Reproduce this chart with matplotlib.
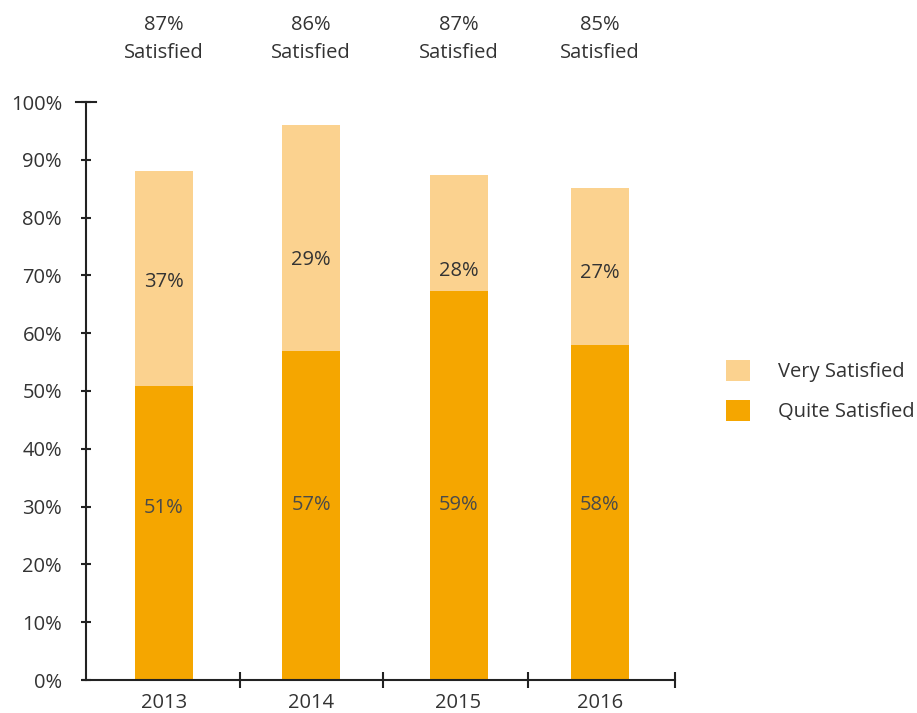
import matplotlib.pyplot as plt
import numpy as np

# data
years = ["2013", "2014", "2015", "2016"]
quite_height = [50.9, 56.9, 67.3, 58.0]      # drawn height of the dark segment
very_height = [37.2, 39.1, 20.1, 27.1]       # drawn height of the light segment
quite_labels = ["51%", "57%", "59%", "58%"]
very_labels = ["37%", "29%", "28%", "27%"]
total_labels = ["87%", "86%", "87%", "85%"]
quite_label_y = [29.8, 30.3, 30.3, 30.3]
very_label_y = [68.9, 72.7, 70.8, 70.4]

# layout (category slots are not quite even in the original)
bar_x = [0.53, 1.53, 2.53, 3.49]
sep_x = [1.046, 2.017, 3.0, 4.0]

DARK = "#F5A600"
LIGHT = "#FBD28F"
TEXT = "#333333"
FS = 14.5

plt.rcParams["font.family"] = ["Open Sans", "DejaVu Sans"]

fig = plt.figure(figsize=(9.17, 7.13), dpi=100)
ax = fig.add_axes([86 / 917, 1 - 680 / 713, 589 / 917, 578 / 713])

w = 0.394
ax.bar(bar_x, quite_height, width=w, color=DARK, label="Quite Satisfied")
ax.bar(bar_x, very_height, width=w, bottom=quite_height, color=LIGHT, label="Very Satisfied")

for i in range(len(years)):
    ax.text(bar_x[i], quite_label_y[i], quite_labels[i], ha="center", va="center",
            fontsize=FS, color="#4a4a4a")
    ax.text(bar_x[i], very_label_y[i], very_labels[i], ha="center", va="center",
            fontsize=FS, color=TEXT)
    ax.text(bar_x[i], 110.9, total_labels[i] + "\nSatisfied", ha="center", va="center",
            fontsize=FS, color=TEXT, linespacing=1.58, clip_on=False)

ax.set_xlim(0, 4)
ax.set_ylim(0, 100)

for s in ["top", "right"]:
    ax.spines[s].set_visible(False)
for s in ["left", "bottom"]:
    ax.spines[s].set_color("#222222")
    ax.spines[s].set_linewidth(1.5)
ax.spines["bottom"].set_bounds(-0.02, 4)

ax.set_yticks(np.arange(0, 101, 10))
ax.set_yticklabels([f"{v}%" for v in range(0, 101, 10)])
ax.tick_params(axis="y", direction="inout", length=6.5, width=1.5, color="#222222",
               labelsize=FS, labelcolor=TEXT, pad=14)

ax.set_xticks(bar_x)
ax.set_xticklabels(years)
ax.set_xticks(sep_x, minor=True)
ax.tick_params(axis="x", which="major", length=0, labelsize=FS, labelcolor=TEXT, pad=9.5)
ax.tick_params(axis="x", which="minor", direction="inout", length=11.5, width=1.5,
               color="#222222")

# longer cap at the top of the y axis
ax.axhline(100, xmin=-0.017, xmax=0.017, color="#222222", lw=1.5, clip_on=False)

h, l = ax.get_legend_handles_labels()
fig.legend(h[::-1], l[::-1], loc="upper left", bbox_to_anchor=(726 / 917, 1 - 360 / 713),
           frameon=False, fontsize=FS, handlelength=1.19, handleheight=1.19,
           handletextpad=1.39, labelspacing=0.9, borderpad=0, borderaxespad=0,
           labelcolor=TEXT)

fig.savefig("out.png", dpi=100)
